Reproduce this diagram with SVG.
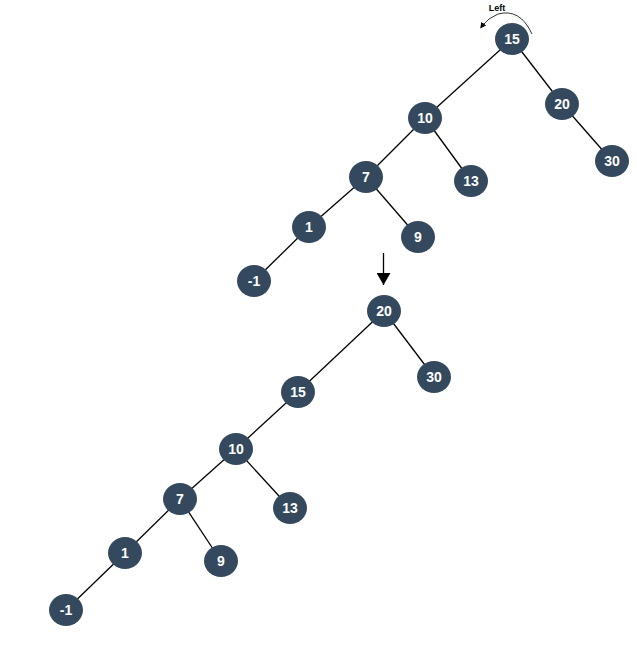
<svg xmlns="http://www.w3.org/2000/svg" width="637" height="650" viewBox="0 0 637 650">
<defs>
<style>
.n ellipse{fill:#34495e;}
.n text{fill:#fff;font-family:"Liberation Sans",Arial,sans-serif;font-weight:bold;font-size:14px;text-anchor:middle;dominant-baseline:central;}
.e line{stroke:#000;stroke-width:1.3;}
</style>
<marker id="ah" markerWidth="12" markerHeight="14" refX="12" refY="7" orient="auto" markerUnits="userSpaceOnUse">
<path d="M0,0 L12,7 L0,14 z" fill="#000"/>
</marker>
<marker id="ah2" markerWidth="6" markerHeight="6" refX="3" refY="3" orient="auto" markerUnits="userSpaceOnUse">
<path d="M0,0 L6,3 L0,6 z" fill="#000"/>
</marker>
</defs>
<rect width="637" height="650" fill="#fff"/>
<g id="connectors" class="e">
<line x1="512" y1="39" x2="562" y2="104"/>
<line x1="562" y1="104" x2="612" y2="161"/>
<line x1="512" y1="39" x2="425" y2="118"/>
<line x1="425" y1="118" x2="471" y2="181"/>
<line x1="425" y1="118" x2="366" y2="177"/>
<line x1="366" y1="177" x2="418" y2="237"/>
<line x1="366" y1="177" x2="309" y2="227"/>
<line x1="309" y1="227" x2="254" y2="281"/>
<line x1="384" y1="311" x2="434" y2="377"/>
<line x1="384" y1="311" x2="298" y2="392"/>
<line x1="298" y1="392" x2="236" y2="449"/>
<line x1="236" y1="449" x2="290" y2="508"/>
<line x1="236" y1="449" x2="180" y2="499"/>
<line x1="180" y1="499" x2="221" y2="561"/>
<line x1="180" y1="499" x2="125" y2="553"/>
<line x1="125" y1="553" x2="66" y2="610"/>
<line x1="383.5" y1="253" x2="383.5" y2="285" marker-end="url(#ah)"/>
<path d="M532,34 Q520,8 498,14 Q488,18 482,26" fill="none" stroke="#000" stroke-width="0.8" marker-end="url(#ah2)"/>
</g>
<text x="497" y="11" font-family="Liberation Sans,Arial,sans-serif" font-weight="bold" font-size="9" text-anchor="middle">Left</text>
<g id="t15" class="n"><ellipse cx="512" cy="39" rx="17" ry="16"/><text x="512" y="39">15</text></g>
<g id="t20" class="n"><ellipse cx="562" cy="104" rx="17" ry="16"/><text x="562" y="104">20</text></g>
<g id="t30" class="n"><ellipse cx="612" cy="161" rx="17" ry="16"/><text x="612" y="161">30</text></g>
<g id="t10" class="n"><ellipse cx="425" cy="118" rx="17" ry="16"/><text x="425" y="118">10</text></g>
<g id="t13" class="n"><ellipse cx="471" cy="181" rx="17" ry="16"/><text x="471" y="181">13</text></g>
<g id="t7" class="n"><ellipse cx="366" cy="177" rx="17" ry="16"/><text x="366" y="177">7</text></g>
<g id="t9" class="n"><ellipse cx="418" cy="237" rx="17" ry="16"/><text x="418" y="237">9</text></g>
<g id="t1" class="n"><ellipse cx="309" cy="227" rx="17" ry="16"/><text x="309" y="227">1</text></g>
<g id="tm1" class="n"><ellipse cx="254" cy="281" rx="17" ry="16"/><text x="254" y="281">-1</text></g>
<g id="b20" class="n"><ellipse cx="384" cy="311" rx="17" ry="16"/><text x="384" y="311">20</text></g>
<g id="b30" class="n"><ellipse cx="434" cy="377" rx="17" ry="16"/><text x="434" y="377">30</text></g>
<g id="b15" class="n"><ellipse cx="298" cy="392" rx="17" ry="16"/><text x="298" y="392">15</text></g>
<g id="b10" class="n"><ellipse cx="236" cy="449" rx="17" ry="16"/><text x="236" y="449">10</text></g>
<g id="b13" class="n"><ellipse cx="290" cy="508" rx="17" ry="16"/><text x="290" y="508">13</text></g>
<g id="b7" class="n"><ellipse cx="180" cy="499" rx="17" ry="16"/><text x="180" y="499">7</text></g>
<g id="b9" class="n"><ellipse cx="221" cy="561" rx="17" ry="16"/><text x="221" y="561">9</text></g>
<g id="b1" class="n"><ellipse cx="125" cy="553" rx="17" ry="16"/><text x="125" y="553">1</text></g>
<g id="bm1" class="n"><ellipse cx="66" cy="610" rx="17" ry="16"/><text x="66" y="610">-1</text></g>
</svg>
